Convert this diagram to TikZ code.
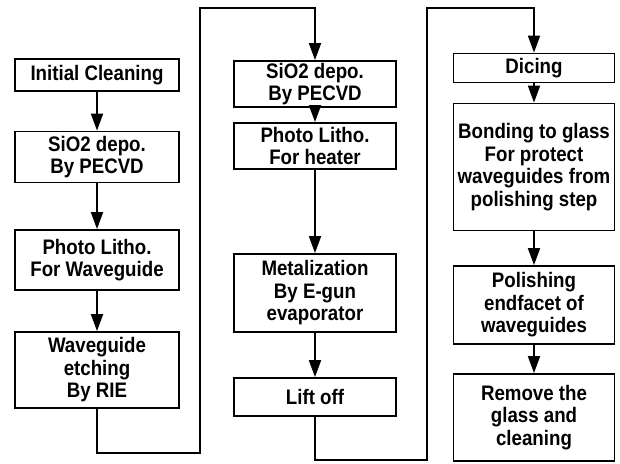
\documentclass[tikz,border=0pt]{standalone}
\usepackage{fontspec}
\setmainfont{Liberation Sans}[FakeStretch=0.89]
\usetikzlibrary{arrows.meta}
\tikzset{
  stepbox/.style={draw=black, line width=1.8pt, fill=white, align=center, inner sep=0pt,
    font=\bfseries\fontsize{21}{22.5}\selectfont},
  col1/.style={stepbox, minimum width=164pt},
  col2/.style={stepbox, minimum width=162pt},
  col3/.style={stepbox, minimum width=161pt},
  arr/.style={line width=1.8pt, line join=miter, -{Triangle[length=17pt,width=12pt]}},
}
\begin{document}
\begin{tikzpicture}[x=1pt,y=-1pt]
\useasboundingbox (0,0) rectangle (620,463);
% column 1
\node[col1, minimum height=32pt] (init) at (97,75) {Initial Cleaning};
\node[col1, minimum height=51pt] (sio1) at (97,157) {SiO2 depo.\\By PECVD};
\node[col1, minimum height=60pt] (photo1) at (97,260) {Photo Litho.\\For Waveguide};
\node[col1, minimum height=76pt] (etch) at (97,370) {Waveguide\\etching\\By RIE};
% column 2
\node[col2, minimum height=46pt] (sio2) at (315,84) {SiO2 depo.\\By PECVD};
\node[col2, minimum height=46pt] (photo2) at (315,146) {Photo Litho.\\For heater};
\node[col2, minimum height=78pt] (metal) at (315,293) {Metalization\\By E-gun\\evaporator};
\node[col2, minimum height=38pt] (lift) at (315,397) {Lift off};
% column 3
\node[col3, minimum height=29pt] (dice) at (534,68) {Dicing};
\node[col3, minimum height=127pt] (bond) at (534,167) {Bonding to glass\\For protect\\waveguides from\\polishing step};
\node[col3, minimum height=78pt] (polish) at (534,305) {Polishing\\endfacet of\\waveguides};
\node[col3, minimum height=87pt] (remove) at (534,417.5) {Remove the\\glass and\\cleaning};
% connector corners
\coordinate (b1) at (200,453);
\coordinate (t1) at (315,8);
\coordinate (b2) at (427,460);
\coordinate (t2) at (534,8);
% connectors
\draw[arr] (init) -- (sio1);
\draw[arr] (sio1) -- (photo1);
\draw[arr] (photo1) -- (etch);
\draw[arr] (etch.south) |- (b1) |- (t1) -- (sio2.north);
\draw[arr] (sio2) -- (photo2);
\draw[arr] (photo2) -- (metal);
\draw[arr] (metal) -- (lift);
\draw[arr] (lift.south) |- (b2) |- (t2) -- (dice.north);
\draw[arr] (dice) -- (bond);
\draw[arr] (bond) -- (polish);
\draw[arr] (polish) -- (remove);
\end{tikzpicture}
\end{document}
